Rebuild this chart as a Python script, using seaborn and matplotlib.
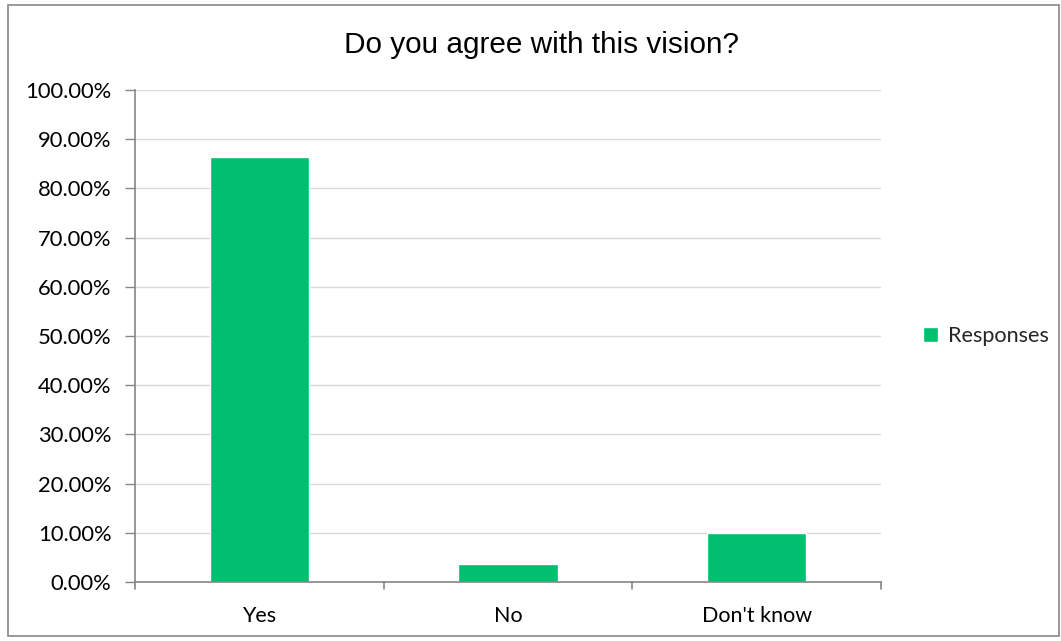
import matplotlib
matplotlib.use("Agg")
import matplotlib.pyplot as plt
from matplotlib.patches import Rectangle
from matplotlib.ticker import FuncFormatter, MultipleLocator
import seaborn as sns
import pandas as pd

categories = ["Yes", "No", "Don't know"]
responses = [86.44, 3.56, 9.90]
series_name = "Responses"
title = "Do you agree with this vision?"

sns.set_theme(style="white")
plt.rcParams["font.family"] = ["Lato", "DejaVu Sans"]

W, H = 1061, 641
fig = plt.figure(figsize=(W / 100, H / 100), dpi=100)
ax = fig.add_axes([135 / W, (H - 582) / H, (881 - 135) / W, (582 - 90) / H])

df = pd.DataFrame({"category": categories, "value": responses})
sns.barplot(data=df, x="category", y="value", color="#00BF6F", width=0.4,
            saturation=1, ax=ax, label=series_name)

ax.set_xlim(-0.5, 2.5)
ax.set_ylim(0, 100)
ax.yaxis.set_major_locator(MultipleLocator(10))
ax.yaxis.set_major_formatter(FuncFormatter(lambda v, p: f"{v:.2f}%"))
ax.set_xlabel("")
ax.set_ylabel("")
ax.grid(axis="y", color="#d9d9d9", linewidth=1)
ax.set_axisbelow(True)

for side in ("top", "right"):
    ax.spines[side].set_visible(False)
for side in ("left", "bottom"):
    ax.spines[side].set_color("#868686")
    ax.spines[side].set_linewidth(1.2)

ax.tick_params(axis="y", left=True, length=7, width=1, color="#868686",
               labelsize=15.8, labelcolor="#000000", pad=10)
ax.tick_params(axis="x", bottom=False, labelsize=15.5, labelcolor="#000000", pad=11)
# category boundary ticks under the x axis
for xb in (-0.5, 0.5, 1.5, 2.5):
    ax.plot([xb, xb], [0, -1.4], color="#868686", lw=1.2, clip_on=False)

fig.text(541 / W, 1 - 45 / H, title, ha="center", va="center",
         fontsize=21.4, family=["Liberation Sans", "DejaVu Sans"], color="#000000")

leg = ax.legend(loc="center left", bbox_to_anchor=(1.03, 0.5), frameon=False,
                fontsize=15.6, handlelength=0.7, handleheight=0.7,
                handletextpad=0.45)

fig.patches.append(Rectangle((8 / W, 5 / H), (1059 - 8) / W, (636 - 5) / H,
                             transform=fig.transFigure, fill=False,
                             edgecolor="#888888", linewidth=1.2))

fig.savefig("out.png", dpi=100)
